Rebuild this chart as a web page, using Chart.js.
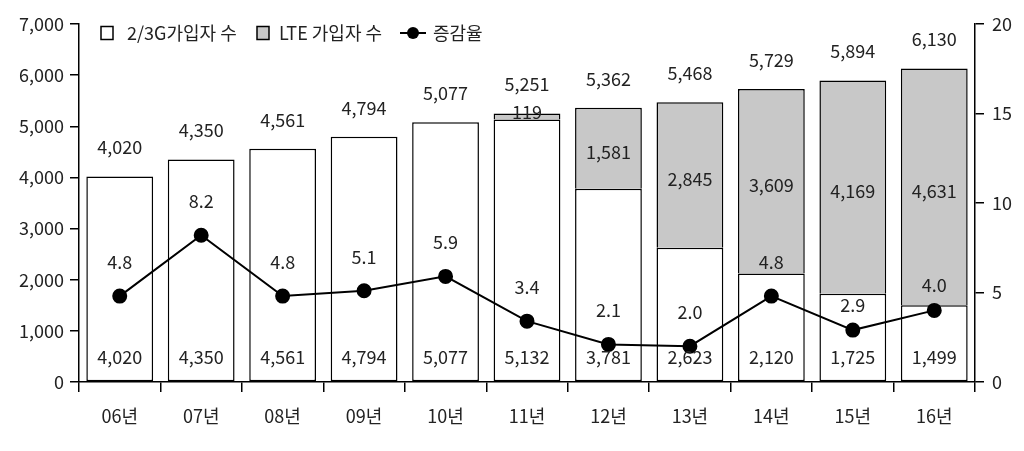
<!DOCTYPE html>
<html>
<head>
<meta charset="utf-8">
<script src="https://cdn.jsdelivr.net/npm/chart.js@4"></script>
<style>
  html, body { margin: 0; padding: 0; background: #fff; }
  #wrap { width: 1024px; height: 451px; }
</style>
</head>
<body>
<div id="wrap"><canvas id="subChart"></canvas></div>
<script>
  // 연도별 가입자 (천명) 와 증감율 (%)
  const years = ['06년', '07년', '08년', '09년', '10년', '11년', '12년', '13년', '14년', '15년', '16년'];
  const subs23g = [4020, 4350, 4561, 4794, 5077, 5132, 3781, 2623, 2120, 1725, 1499];
  const subsLte = [null, null, null, null, null, 119, 1581, 2845, 3609, 4169, 4631];
  const totals = [4020, 4350, 4561, 4794, 5077, 5251, 5362, 5468, 5729, 5894, 6130];
  const growth = [4.8, 8.2, 4.8, 5.1, 5.9, 3.4, 2.1, 2.0, 4.8, 2.9, 4.0];

  const FONT = '"Noto Sans CJK KR", "Noto Sans", sans-serif';
  const TXT = '#222';
  const GRAY = '#c8c8c8';
  const FS = 18;

  const fmt = (v) => v.toLocaleString('en-US');

  // value labels + legend drawn by hand
  const labelPlugin = {
    id: 'labels',
    afterDatasetsDraw(chart) {
      const ctx = chart.ctx;
      const yScale = chart.scales.y;
      const base = yScale.getPixelForValue(0);
      const m23 = chart.getDatasetMeta(0).data;
      const mLte = chart.getDatasetMeta(1).data;
      const mLine = chart.getDatasetMeta(2).data;
      ctx.save();
      ctx.font = FS + 'px ' + FONT;
      ctx.fillStyle = TXT;
      ctx.textAlign = 'center';
      ctx.textBaseline = 'middle';

      years.forEach((y, i) => {
        const x = m23[i].x;
        // 2/3G value near the bottom
        ctx.fillText(fmt(subs23g[i]), x, base - 25);
        // LTE value inside the gray segment
        if (subsLte[i] != null) {
          const top = mLte[i].y;
          const bot = mLte[i].base;
          if (bot - top < 20) {
            ctx.fillText(fmt(subsLte[i]), x, top - 1);
          } else {
            ctx.fillText(fmt(subsLte[i]), x, (top + bot) / 2 + 4);
          }
        }
        // total on top
        ctx.fillText(fmt(totals[i]), x, yScale.getPixelForValue(totals[i]) - 29);
        // growth rate
        const lift = i >= 9 ? 25 : 34;
        ctx.fillText(growth[i].toFixed(1), mLine[i].x, mLine[i].y - lift);
      });

      // legend
      const ly = 33;
      ctx.textAlign = 'left';
      ctx.lineWidth = 1.5;
      ctx.strokeStyle = '#000';
      ctx.fillStyle = '#fff';
      ctx.fillRect(101, ly - 6.5, 12, 13);
      ctx.strokeRect(101, ly - 6.5, 12, 13);
      ctx.fillStyle = GRAY;
      ctx.fillRect(257, ly - 6.5, 12, 13);
      ctx.strokeRect(257, ly - 6.5, 12, 13);
      ctx.lineWidth = 2;
      ctx.beginPath();
      ctx.moveTo(400, ly);
      ctx.lineTo(426, ly);
      ctx.stroke();
      ctx.fillStyle = '#000';
      ctx.beginPath();
      ctx.arc(413, ly, 6, 0, Math.PI * 2);
      ctx.fill();
      ctx.fillStyle = TXT;
      ctx.fillText('2/3G가입자 수', 127, ly);
      ctx.fillText('LTE 가입자 수', 279, ly);
      ctx.fillText('증감율', 433, ly);
      ctx.restore();
    }
  };

  new Chart('subChart', {
    type: 'bar',
    data: {
      labels: years,
      datasets: [{
        label: '2/3G가입자 수',
        data: subs23g,
        backgroundColor: '#fff',
        borderColor: '#000',
        borderWidth: 1.5,
        borderSkipped: false,
        barPercentage: 0.82,
        categoryPercentage: 1,
        yAxisID: 'y',
        stack: 's',
        order: 2
      }, {
        label: 'LTE 가입자 수',
        data: subsLte,
        backgroundColor: GRAY,
        borderColor: '#000',
        borderWidth: { top: 1.5, left: 1.5, right: 1.5, bottom: 0 },
        borderSkipped: false,
        barPercentage: 0.82,
        categoryPercentage: 1,
        yAxisID: 'y',
        stack: 's',
        order: 2
      }, {
        type: 'line',
        label: '증감율',
        data: growth,
        borderColor: '#000',
        borderWidth: 2,
        backgroundColor: '#000',
        pointRadius: 6.5,
        pointHoverRadius: 6.5,
        tension: 0,
        yAxisID: 'y1',
        order: 0
      }]
    },
    options: {
      responsive: true,
      maintainAspectRatio: false,
      animation: false,
      layout: { padding: { top: 24, left: 0, right: 0, bottom: 0 } },
      plugins: {
        legend: { display: false },
        tooltip: { enabled: false }
      },
      scales: {
        x: {
          stacked: true,
          grid: { display: true, drawOnChartArea: false, offset: true, color: '#000', lineWidth: 1.5, tickLength: 10 },
          border: { display: true, color: '#000', width: 1.5 },
          ticks: { color: TXT, font: { family: FONT, size: FS }, padding: 13 },
          afterFit(s) { s.height = 69; }
        },
        y: {
          stacked: true,
          position: 'left',
          min: 0,
          max: 7000,
          ticks: { stepSize: 1000, color: TXT, font: { family: FONT, size: FS }, padding: 6, callback: (v) => fmt(v) },
          grid: { display: true, drawOnChartArea: false, color: '#000', lineWidth: 1.5, tickLength: 9 },
          border: { display: true, color: '#000', width: 1.5 },
          afterFit(s) { s.width = 79; }
        },
        y1: {
          position: 'right',
          min: 0,
          max: 20,
          ticks: { stepSize: 5, color: TXT, font: { family: FONT, size: FS }, padding: 8 },
          grid: { display: true, drawOnChartArea: false, color: '#000', lineWidth: 1.5, tickLength: 9 },
          border: { display: true, color: '#000', width: 1.5 },
          afterFit(s) { s.width = 49; }
        }
      }
    },
    plugins: [labelPlugin]
  });
</script>
</body>
</html>
